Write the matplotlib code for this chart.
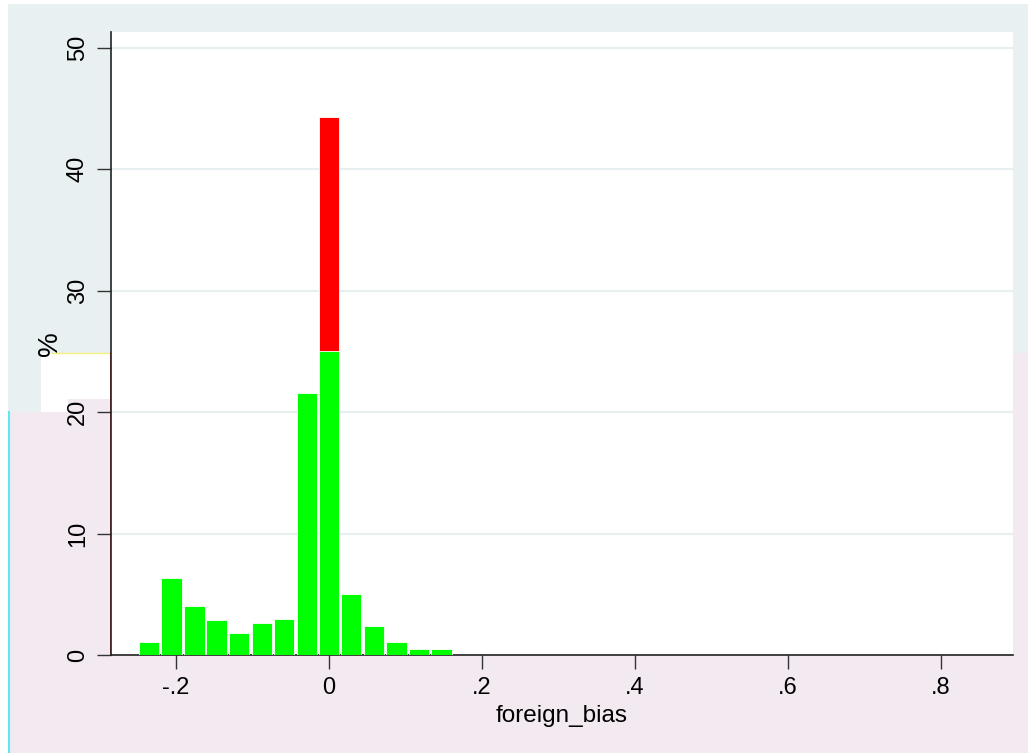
import matplotlib
matplotlib.use('Agg')
import matplotlib.pyplot as plt
import matplotlib.patches as mpatches
from matplotlib.lines import Line2D

# ── data ──────────────────────────────────────────────────────────────────────
bin_centers  = [-0.235, -0.206, -0.176, -0.147, -0.118, -0.088, -0.059,
                -0.029, 0.0, 0.029, 0.059, 0.088, 0.118, 0.147]
green_pct    = [1.1, 6.3, 4.0, 2.9, 1.8, 2.6, 3.0,
                21.6, 25.0, 5.0, 2.4, 1.1, 0.5, 0.5]
red_centers  = [0.0]
red_pct      = [44.3]
bin_width    = 0.0295

x_ticks      = [-0.2, 0, 0.2, 0.4, 0.6, 0.8]
x_ticklabels = ["-.2", "0", ".2", ".4", ".6", ".8"]
y_ticks      = [0, 10, 20, 30, 40, 50]

W, H = 1028, 753
BLUE = "#e9f0f2"
PINK = "#f3e9f0"

plt.rcParams['font.family'] = ['Liberation Sans', 'DejaVu Sans']

fig = plt.figure(figsize=(W / 100, H / 100), dpi=100)
fig.patch.set_facecolor("white")


def px_rect(x0, y0, x1, y1, color):
    # pixel box (top-left origin) -> figure fraction rectangle
    fig.patches.append(mpatches.Rectangle(
        (x0 / W, 1 - y1 / H), (x1 - x0) / W, (y1 - y0) / H,
        transform=fig.transFigure, facecolor=color, edgecolor="none", zorder=0))


def px_line(x0, y0, x1, y1, color, lw=1.0):
    fig.lines.append(Line2D([x0 / W, x1 / W], [1 - y0 / H, 1 - y1 / H],
                            transform=fig.transFigure, color=color, lw=lw, zorder=1))


# two overlaid graph regions (blue-grey top, pink bottom)
px_rect(8, 4, W, 353, BLUE)
px_rect(8, 353, 110, 412, BLUE)
px_rect(110, 353, W, H, PINK)
px_rect(8, 412, 110, H, PINK)
px_rect(41, 353, 110, 412, "white")
px_rect(68, 399, 110, 412, PINK)
px_line(52, 353, 110, 353, "#f5f07a", 1.0)
px_line(8.5, 412, 8.5, H, "#5ee8f0", 1.5)

# ── plot ──────────────────────────────────────────────────────────────────────
ax = fig.add_axes([111 / W, 1 - 655 / H, (1013 - 111) / W, (655 - 32) / H])
ax.set_facecolor("white")
ax.set_zorder(2)

ax.bar(red_centers, red_pct, width=bin_width * 0.9, color="#ff0000",
       edgecolor="white", linewidth=0.6, zorder=2)
ax.bar(bin_centers, green_pct, width=bin_width * 0.9, color="#00ff00",
       edgecolor="white", linewidth=0.6, zorder=3)

ax.set_xlim(-0.285, 0.894)
ax.set_ylim(0, 51.3)

ax.set_xticks(x_ticks)
ax.set_xticklabels(x_ticklabels)
ax.set_yticks(y_ticks)
ax.set_yticklabels([str(v) for v in y_ticks], rotation=90, va="center")

ax.tick_params(axis="both", labelsize=17, length=10, width=1, color="#333333",
               pad=6)
ax.grid(axis="y", color="#e8eff1", linewidth=1.6, zorder=0)
ax.set_axisbelow(True)

for side in ("top", "right"):
    ax.spines[side].set_visible(False)
for side in ("left", "bottom"):
    ax.spines[side].set_color("#222222")
    ax.spines[side].set_linewidth(1.2)

ax.set_xlabel("foreign_bias", fontsize=17.5, labelpad=4)
ax.set_ylabel("%", fontsize=20, labelpad=3)

# red overlay on lower part of the left axis line
px_line(110.5, 353, 110.5, 655, "#ff2020", 1.2)

fig.savefig("out.png", dpi=100)
